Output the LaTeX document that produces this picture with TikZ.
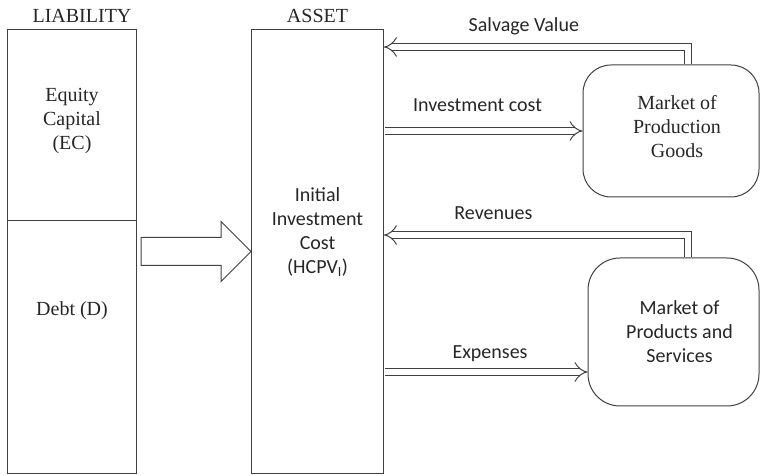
\documentclass[tikz,border=0pt]{standalone}
\usepackage{fontspec}
\setmainfont{Liberation Serif}
\newfontfamily\calib{Carlito}
\usepackage{tikz}
\usetikzlibrary{arrows.meta,positioning,calc}

\begin{document}
\begin{tikzpicture}[x=1pt,y=1pt,
    box/.style={draw=black!75,line width=1pt,inner sep=0pt},
    market/.style={box,align=center},
    flow/.style={draw=black!75,line width=1pt,double=white,double distance=6pt,-{Implies}},
    serif/.style={font=\fontsize{20}{24}\selectfont,align=center,text=black!85},
    sans/.style={font=\calib\fontsize{20}{24}\selectfont,align=center,text=black!85},
    lbl/.style={sans,anchor=base,inner sep=0pt}]
    \useasboundingbox (0,0) rectangle (760,476);

    % Draw liability side
    \node[box,minimum width=129pt,minimum height=191pt,anchor=south west] (eq) at (7,255) {};
    \node[box,minimum width=129pt,minimum height=253pt,anchor=south west] (debt) at (7,2) {};
    \node[serif] (eqtxt) at ([yshift=4pt]eq.center) {Equity\\Capital\\(EC)};
    \node[serif] (debttxt) at ([yshift=36pt]debt.center) {Debt (D)};
    \node[serif,anchor=base] (liabl) at ([xshift=10pt,yshift=6pt]eq.north) {LIABILITY};

    % Draw asset side
    \node[box,minimum width=132pt,minimum height=444pt,anchor=south west] (asset) at (251,2) {};
    \node[sans] (assettxt) at ([yshift=19pt]asset.center) {Initial\\Investment\\Cost\\(HCPV\textsubscript{I})};
    \node[serif,anchor=base] (assetl) at ([yshift=6pt]asset.north) {ASSET};

    % Draw big arrow from liability to asset
    \coordinate (bs) at ([xshift=4pt]eq.south east |- asset.west);
    \coordinate (bt) at (asset.west);
    \draw[box] ($(bs)+(0,14)$) -- ($(bt)+(-30,14)$) -- ($(bt)+(-30,30)$) -- (bt)
        -- ($(bt)+(-30,-30)$) -- ($(bt)+(-30,-14)$) -- ($(bs)+(0,-14)$) -- cycle;

    % Draw markets
    \node[market,rounded corners=28pt,minimum width=176pt,minimum height=132pt] (mpg) at (671,345) {};
    \node[serif] (mpgtxt) at ([xshift=6pt,yshift=4pt]mpg.center) {Market of\\Production\\Goods};
    \node[market,rounded corners=32pt,minimum width=171pt,minimum height=148pt] (mps) at (673.5,144) {};
    \node[sans] (mpstxt) at ([xshift=6pt]mps.center) {Market of\\Products and\\Services};

    % Draw flows
    \coordinate (sv) at (688,429);
    \coordinate (rv) at (688,241);
    \coordinate (ex) at (500,104);
    \draw[flow] ([yshift=0.5pt]mpg.north -| sv) |- (asset.east |- sv)
        node[lbl,pos=0.77,yshift=15pt] {Salvage Value};
    \draw[flow] ([xshift=0.5pt]asset.east |- mpg.west) -- (mpg.west)
        node[lbl,pos=0.47,yshift=19pt] {Investment cost};
    \draw[flow] ([yshift=0.5pt]mps.north -| rv) |- (asset.east |- rv)
        node[lbl,pos=0.82,yshift=15pt] {Revenues};
    \draw[flow] ([xshift=0.5pt]asset.east |- ex) -- (mps.west |- ex)
        node[lbl,pos=0.52,yshift=13pt] {Expenses};
\end{tikzpicture}
\end{document}
